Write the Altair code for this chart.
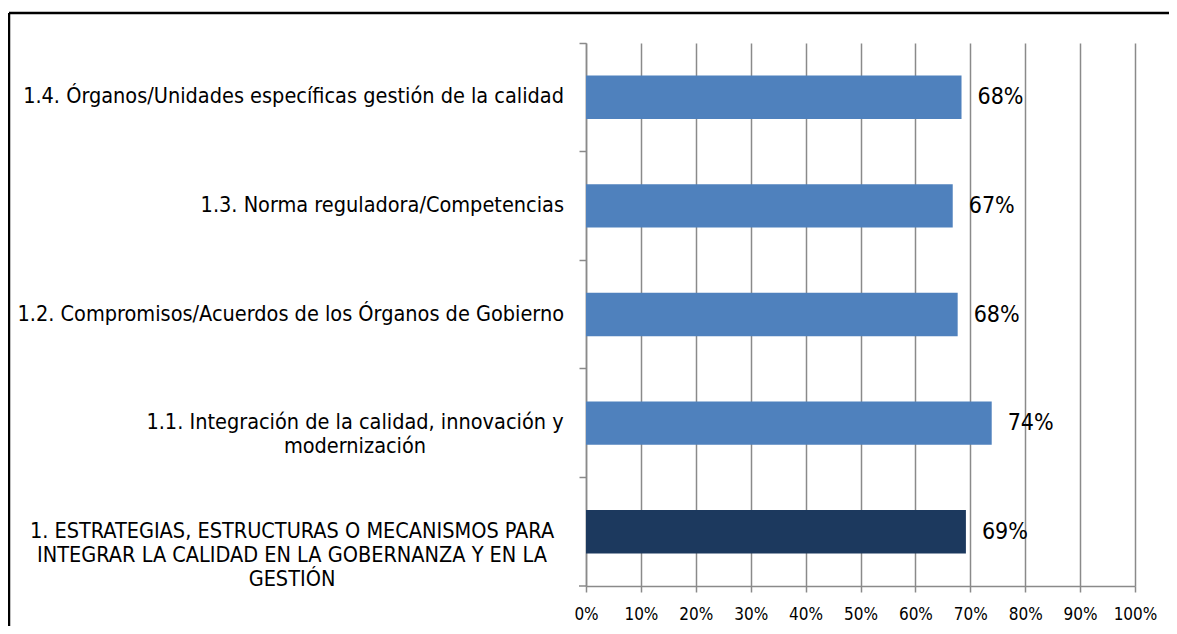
import altair as alt
import pandas as pd

FONT = "DejaVu Sans Condensed"

categories = [
    "1.4. Órganos/Unidades específicas gestión de la calidad",
    "1.3. Norma reguladora/Competencias",
    "1.2. Compromisos/Acuerdos de los Órganos de Gobierno",
    "1.1. Integración de la calidad, innovación y\nmodernización",
    "1. ESTRATEGIAS, ESTRUCTURAS O MECANISMOS PARA\nINTEGRAR LA CALIDAD EN LA GOBERNANZA Y EN LA\nGESTIÓN",
]
values = [0.684, 0.668, 0.677, 0.739, 0.692]
groups = ["apartado", "apartado", "apartado", "apartado", "total"]
x_ticks = [0.0, 0.1, 0.2, 0.3, 0.4, 0.5, 0.6, 0.7, 0.8, 0.9, 1.0]

df = pd.DataFrame({"category": categories, "value": values, "group": groups})

GRAY = "#8a8a8a"

y_enc = alt.Y(
    "category:N",
    sort=categories,
    scale=alt.Scale(paddingInner=0, paddingOuter=0),
    axis=alt.Axis(
        title=None,
        bandPosition=0,
        tickSize=7,
        tickColor=GRAY,
        tickWidth=1.5,
        domainColor=GRAY,
        domainWidth=1.5,
        grid=False,
        labels=False,
    ),
)

x_enc = alt.X(
    "value:Q",
    scale=alt.Scale(domain=[0, 1], nice=False),
    axis=alt.Axis(
        title=None,
        values=x_ticks,
        format=".0%",
        grid=True,
        gridColor=GRAY,
        gridWidth=1.5,
        domainColor=GRAY,
        domainWidth=1.5,
        tickColor=GRAY,
        tickWidth=1.5,
        tickSize=6,
        labelFont=FONT,
        labelFontSize=17,
        labelColor="black",
        labelPadding=14,
        labelFlush=False,
        labelOverlap=False,
    ),
)

bars = alt.Chart(df).mark_bar(height={"band": 0.4}).encode(
    x=x_enc,
    y=y_enc,
    color=alt.Color(
        "group:N",
        scale=alt.Scale(domain=["apartado", "total"], range=["#4F81BD", "#1C395E"]),
        legend=None,
    ),
)

value_text = alt.Chart(df).mark_text(
    align="left", baseline="middle", dx=16, font=FONT, fontSize=23, color="black"
).encode(
    x="value:Q",
    y=alt.Y("category:N", sort=categories),
    text=alt.Text("value:Q", format=".0%"),
)

base_lbl = alt.Chart(df).transform_calculate(lines="split(datum.category, '\\n')")
lbl_style = dict(baseline="middle", font=FONT, fontSize=21.5, lineHeight=24, color="black")

lbl_single = base_lbl.transform_filter(
    alt.FieldOneOfPredicate(field="category", oneOf=categories[:3])
).mark_text(align="right", **lbl_style).encode(
    x=alt.value(-22),
    y=alt.Y("category:N", sort=categories),
    text="lines:N",
)
lbl_two = base_lbl.transform_filter(
    alt.FieldOneOfPredicate(field="category", oneOf=[categories[3]])
).mark_text(align="center", **lbl_style).encode(
    x=alt.value(-231),
    y=alt.Y("category:N", sort=categories),
    text="lines:N",
)
lbl_three = base_lbl.transform_filter(
    alt.FieldOneOfPredicate(field="category", oneOf=[categories[4]])
).mark_text(align="center", **lbl_style).encode(
    x=alt.value(-294),
    y=alt.Y("category:N", sort=categories),
    text="lines:N",
)

frame_data = alt.Data(values=[{}])
frame_left = alt.Chart(frame_data).mark_rule(color="black", strokeWidth=2.5).encode(
    x=alt.value(-577), y=alt.value(-30), y2=alt.value(700)
)
frame_top = alt.Chart(frame_data).mark_rule(color="black", strokeWidth=2.5).encode(
    x=alt.value(-577), x2=alt.value(700), y=alt.value(-30)
)
bottom_tick = alt.Chart(frame_data).mark_rule(color=GRAY, strokeWidth=1.5).encode(
    x=alt.value(-7), x2=alt.value(0), y=alt.value(543)
)

chart = (
    alt.layer(bars, value_text, lbl_single, lbl_two, lbl_three, bottom_tick, frame_left, frame_top)
    .properties(
        width=549,
        height=543,
        autosize=alt.AutoSizeParams(type="none"),
        padding={"left": 578, "top": 35, "right": 34, "bottom": 40},
        background="white",
    )
    .configure_view(strokeWidth=0)
)

chart.save("out.html", embed_options={"renderer": "svg", "actions": False})
